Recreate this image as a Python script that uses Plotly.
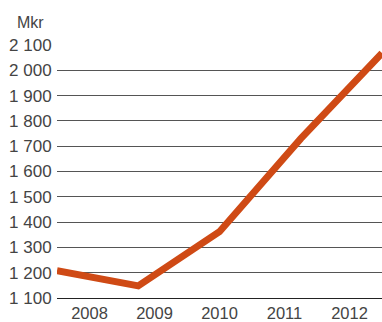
import plotly.graph_objects as go

# Annual values, million kronor
years = ["2008", "2009", "2010", "2011", "2012"]
values = [1208, 1148, 1362, 1730, 2068]

y_ticks = [1100, 1200, 1300, 1400, 1500, 1600, 1700, 1800, 1900, 2000, 2100]
y_tick_text = ["1 100", "1 200", "1 300", "1 400", "1 500", "1 600",
               "1 700", "1 800", "1 900", "2 000", "2 100"]

n = len(years)
# points run edge to edge; year labels sit in the middle of equal bands
x_points = [i * n / (n - 1) for i in range(n)]
x_label_pos = [i + 0.5 for i in range(n)]

font_family = "Liberation Sans, Arial, sans-serif"
text_color = "#444444"

fig = go.Figure(
    go.Scatter(
        x=x_points,
        y=values,
        mode="lines",
        line=dict(color="#cf4a15", width=7),
        hoverinfo="skip",
    )
)

fig.update_layout(
    template="none",
    width=382,
    height=322,
    margin=dict(l=57, r=0, t=45, b=24),
    paper_bgcolor="white",
    plot_bgcolor="white",
    showlegend=False,
    font=dict(family=font_family, size=17, color=text_color),
    xaxis=dict(
        range=[0, n],
        tickvals=x_label_pos,
        ticktext=years,
        tickfont=dict(size=16.5),
        automargin=False,
        showgrid=False,
        zeroline=False,
        showline=True,
        linecolor="#222222",
        linewidth=1,
        ticks="",
        fixedrange=True,
    ),
    yaxis=dict(
        range=[1100, 2100],
        tickvals=y_ticks,
        ticktext=y_tick_text,
        automargin=False,
        showgrid=True,
        gridcolor="#555555",
        gridwidth=1,
        zeroline=False,
        showline=False,
        ticks="outside",
        ticklen=1,
        tickcolor="rgba(0,0,0,0)",
        fixedrange=True,
    ),
    annotations=[
        dict(
            text="Mkr",
            xref="paper",
            yref="paper",
            x=-0.13,
            y=1.0,
            xanchor="left",
            yanchor="bottom",
            yshift=12,
            showarrow=False,
            font=dict(family=font_family, size=16, color=text_color),
        )
    ],
)

fig.write_html("out.html", config={"displayModeBar": False})
